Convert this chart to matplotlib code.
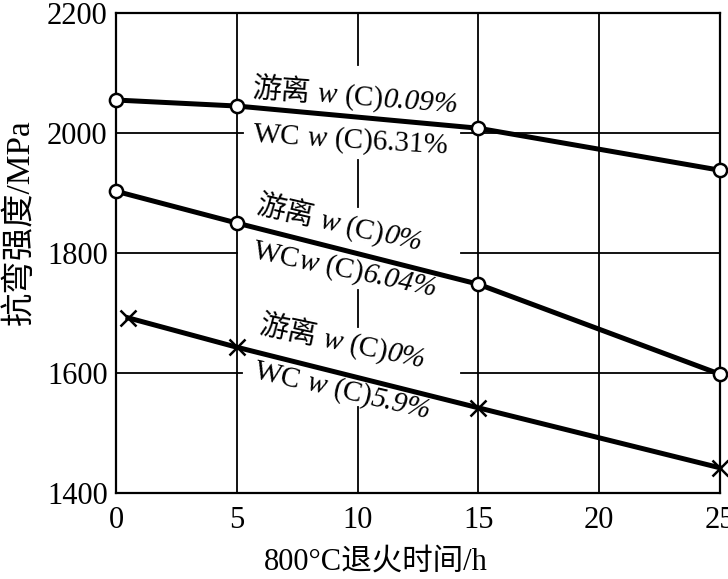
import matplotlib
matplotlib.use("Agg")
import matplotlib.pyplot as plt
import matplotlib.transforms as mtransforms

# annealing time (h) and bending strength (MPa)
hours_a = [0, 5, 15, 25]
strength_a = [2055, 2045, 2008, 1938]       # free C 0.09%, WC C 6.31%
hours_b = [0, 5, 15, 25]
strength_b = [1903, 1850, 1748, 1598]       # free C 0%, WC C 6.04%
hours_c = [0.5, 5, 15, 25]
strength_c = [1692, 1643, 1542, 1442]       # free C 0%, WC C 5.9%

x_ticks = [0, 5, 10, 15, 20, 25]
y_ticks = [1400, 1600, 1800, 2000, 2200]

SERIF = "Liberation Serif"
CJK = ["Liberation Serif", "Noto Sans CJK SC"]

fig = plt.figure(figsize=(7.28, 5.79), dpi=100)
ax = fig.add_axes([0.1593, 0.1485, 0.8297, 0.829])
ax.set_xlim(0, 25)
ax.set_ylim(1400, 2200)

# grid, broken where the labels sit
gkw = dict(color="black", lw=1.3, zorder=1)
for xv in [5, 15, 20]:
    ax.plot([xv, xv], [1400, 2200], **gkw)
for y0, y1 in [(2113, 2200), (1877, 1955), (1677, 1738), (1400, 1543)]:
    ax.plot([10, 10], [y0, y1], **gkw)
for yv, x_end in [(2000, 5.25), (1800, 5.0), (1600, 5.2)]:
    ax.plot([0, x_end], [yv, yv], **gkw)
    ax.plot([14.3, 25], [yv, yv], **gkw)

line_kw = dict(color="black", lw=3.6, zorder=3, clip_on=False)
ax.plot(hours_a, strength_a, marker="o", ms=9.5, mfc="white", mec="black", mew=1.8, **line_kw)
ax.plot(hours_b, strength_b, marker="o", ms=9.5, mfc="white", mec="black", mew=1.8, **line_kw)
ax.plot(hours_c, strength_c, marker="x", ms=12, mec="black", mew=1.8, **line_kw)

for s in ax.spines.values():
    s.set_linewidth(1.6)
ax.set_xticks(x_ticks)
ax.set_yticks(y_ticks)
ax.tick_params(length=0, labelsize=22, pad=6)
ax.tick_params(axis="x", pad=9)
for lab in ax.get_xticklabels() + ax.get_yticklabels():
    lab.set_family(SERIF)

ax.set_xlabel("800°C退火时间/h", family=CJK, fontsize=22)
ax.xaxis.set_label_coords(0.43, -0.114)
ax.set_ylabel("抗弯强度/MPa", family=CJK, fontsize=24)
ax.yaxis.set_label_coords(-0.132, 0.565)

renderer = fig.canvas.get_renderer()


def rich_label(x, y, pieces, angle, size=21):
    # place text pieces one after another along a rotated baseline
    import math
    off = 0.0
    ca, sa = math.cos(math.radians(angle)), math.sin(math.radians(angle))
    for text, fam, style in pieces:
        tmp = ax.text(0, 0, text, family=fam, style=style, fontsize=size)
        w = tmp.get_window_extent(renderer).width * 72 / fig.dpi
        tmp.remove()
        tr = mtransforms.offset_copy(ax.transData, fig, x=off * ca, y=off * sa, units="points")
        ax.text(x, y, text, family=fam, style=style, fontsize=size, rotation=angle,
                rotation_mode="anchor", ha="left", va="baseline", transform=tr, zorder=4)
        off += w


rich_label(5.63, 2060, [("游离", CJK, "normal"), (" w ", SERIF, "italic"),
                        ("(C)", SERIF, "normal"), ("0.09%", SERIF, "italic")], -4.3)
rich_label(5.67, 1985, [("WC", SERIF, "normal"), (" w ", SERIF, "italic"),
                        ("(C)6.31%", SERIF, "normal")], -3.3)
rich_label(5.75, 1867, [("游离", CJK, "normal"), (" w ", SERIF, "italic"),
                        ("(C)", SERIF, "normal"), ("0%", SERIF, "italic")], -13)
rich_label(5.63, 1792, [("WC", SERIF, "normal"), ("w ", SERIF, "italic"),
                        ("(C)", SERIF, "normal"), ("6.04%", SERIF, "italic")], -12)
rich_label(5.88, 1667, [("游离", CJK, "normal"), (" w ", SERIF, "italic"),
                        ("(C)", SERIF, "normal"), ("0%", SERIF, "italic")], -12)
rich_label(5.67, 1592, [("WC", SERIF, "normal"), (" w ", SERIF, "italic"),
                        ("(C)", SERIF, "normal"), ("5.9%", SERIF, "italic")], -13)

fig.savefig("out.png", dpi=100)
